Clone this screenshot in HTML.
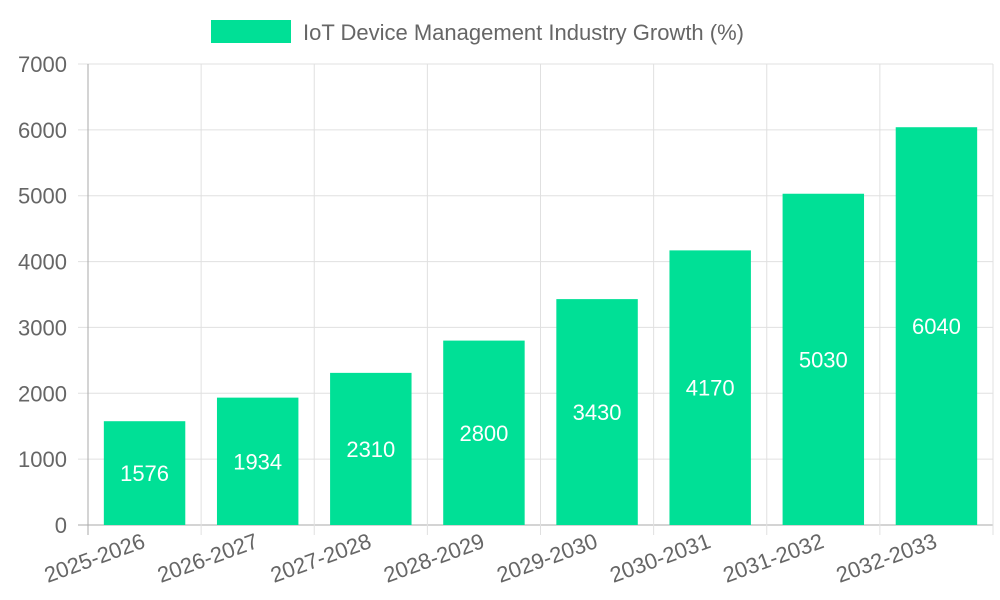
<!DOCTYPE html>
<html><head><meta charset="utf-8"><style>
html,body{margin:0;padding:0;background:#fff;}
svg{display:block;font-family:"Liberation Sans",sans-serif;}
</style></head><body>
<svg id="chart" width="1000" height="600">
<g>
<rect x="211" y="20" width="80" height="23" fill="#00e096"></rect>
<text x="303" y="40" font-size="22" fill="#666">IoT Device Management Industry Growth (%)</text>
</g>
<g id="grid"></g><g id="bars"></g><g id="axes"></g>
</svg>
<script>
const categories=["2025-2026","2026-2027","2027-2028","2028-2029","2029-2030","2030-2031","2031-2032","2032-2033"];
const values=[1576,1934,2310,2800,3430,4170,5030,6040];
const yTicks=[0,1000,2000,3000,4000,5000,6000,7000];
const NS="http://www.w3.org/2000/svg";
const L=88,R=993,T=64,B=525,yMax=7000;
const band=(R-L)/categories.length;
const x=i=>L+band*i;
const y=v=>B-(v/yMax)*(B-T);
function mk(tag,attrs,parent){const e=document.createElementNS(NS,tag);for(const k in attrs)e.setAttribute(k,attrs[k]);document.getElementById(parent).appendChild(e);return e;}
yTicks.forEach(t=>{
 const g=mk('line',{x1:L-10,x2:R,y1:y(t),y2:y(t),stroke:t===0?'#aaa':'#e0e0e0','stroke-width':1},'grid');
 
 
 const lb=mk('text',{x:67,y:y(t)+8,'text-anchor':'end','font-size':22,fill:'#666'},'axes');
 lb.textContent=t;
 
 
});
for(let i=0;i<=categories.length;i++){
 const g=mk('line',{x1:x(i),x2:x(i),y1:T,y2:B+10,stroke:i===0?'#aaa':'#e0e0e0','stroke-width':1},'grid');
 
 
}
categories.forEach((c,i)=>{
 const bw=band*0.72,cx=x(i)+band/2;
 const r=mk('rect',{x:cx-bw/2,y:y(values[i]),width:bw,height:B-y(values[i]),fill:'#00e096'},'bars');
 
 
 const v=mk('text',{x:cx,y:(y(values[i])+B)/2+8,'text-anchor':'middle','font-size':22,fill:'#fff'},'bars');
 v.textContent=values[i];
 
 
 const t=mk('text',{x:cx+2,y:B+22,'text-anchor':'end','font-size':22,fill:'#666',transform:`rotate(-20 ${cx+2} ${B+22})`},'axes');
 t.textContent=c;
 
 
});
</script>
</body></html>
